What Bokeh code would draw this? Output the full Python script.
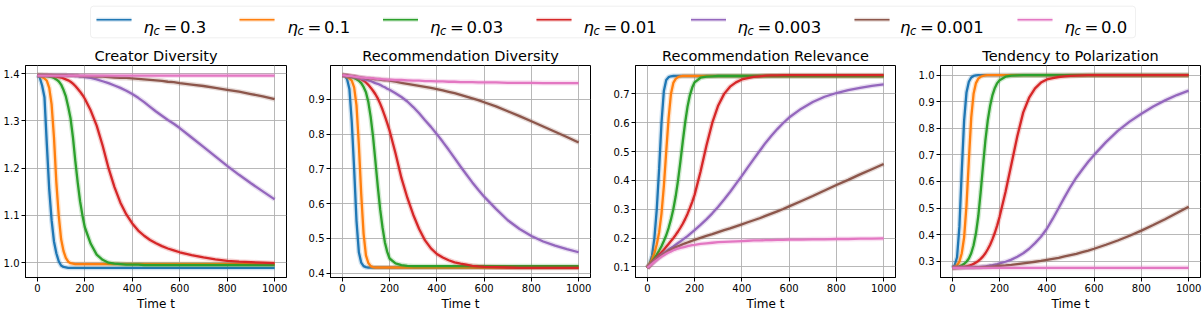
from bokeh.plotting import figure
from bokeh.models import Range1d, FixedTicker, PrintfTickFormatter, BoxAnnotation
from bokeh.layouts import row, column
from bokeh.embed import file_html
from bokeh.resources import INLINE
from bokeh.core.properties import value

# ---------------- data ----------------
T = [0, 10, 20, 30, 40, 50, 60, 70, 80, 90,
     100, 110, 120, 130, 140, 150, 160, 170, 180, 190,
     200, 225, 250, 275, 300, 325, 350, 375, 400, 425,
     450, 475, 500, 525, 550, 575, 600, 650, 700, 750,
     800, 850, 900, 950, 1000]

ETA_LABELS = ["0.3", "0.1", "0.03", "0.01", "0.003", "0.001", "0.0"]
COLORS = ["#1f77b4", "#ff7f0e", "#2ca02c", "#d62728", "#9467bd", "#8c564b", "#e377c2"]
TITLES = ["Creator Diversity", "Recommendation Diversity", "Recommendation Relevance", "Tendency to Polarization"]
X_TICKS = [0, 200, 400, 600, 800, 1000]

# Creator Diversity
cd_eta_0_3 = [1.397, 1.392, 1.375, 1.350, 1.250, 1.155, 1.090, 1.045, 1.020, 1.003,
              0.994, 0.991, 0.990, 0.989, 0.989, 0.989, 0.989, 0.989, 0.989, 0.989,
              0.989, 0.989, 0.989, 0.989, 0.989, 0.989, 0.989, 0.989, 0.989, 0.989,
              0.989, 0.989, 0.989, 0.989, 0.989, 0.989, 0.989, 0.989, 0.989, 0.989,
              0.989, 0.989, 0.989, 0.989, 0.989]
cd_eta_0_1 = [1.397, 1.396, 1.393, 1.390, 1.385, 1.370, 1.335, 1.265, 1.170, 1.100,
              1.050, 1.025, 1.010, 1.002, 0.999, 0.998, 0.997, 0.997, 0.997, 0.997,
              0.997, 0.997, 0.997, 0.997, 0.997, 0.997, 0.997, 0.997, 0.997, 0.997,
              0.997, 0.997, 0.997, 0.997, 0.997, 0.997, 0.997, 0.997, 0.997, 0.997,
              0.997, 0.997, 0.997, 0.997, 0.997]
cd_eta_0_03 = [1.397, 1.397, 1.397, 1.396, 1.395, 1.394, 1.393, 1.391, 1.388, 1.384,
               1.377, 1.366, 1.352, 1.330, 1.305, 1.265, 1.215, 1.170, 1.130, 1.100,
               1.075, 1.040, 1.017, 1.006, 1.000, 0.998, 0.997, 0.996, 0.996, 0.996,
               0.995, 0.995, 0.995, 0.995, 0.995, 0.995, 0.995, 0.995, 0.995, 0.995,
               0.995, 0.995, 0.995, 0.995, 0.995]
cd_eta_0_01 = [1.397, 1.397, 1.397, 1.397, 1.397, 1.396, 1.396, 1.395, 1.394, 1.393,
               1.392, 1.390, 1.388, 1.386, 1.383, 1.379, 1.374, 1.368, 1.362, 1.355,
               1.347, 1.322, 1.290, 1.248, 1.200, 1.160, 1.127, 1.102, 1.083, 1.068,
               1.057, 1.048, 1.041, 1.035, 1.030, 1.026, 1.022, 1.016, 1.011, 1.007,
               1.004, 1.002, 1.001, 1.000, 0.999]
cd_eta_0_003 = [1.397, 1.397, 1.397, 1.397, 1.397, 1.397, 1.397, 1.397, 1.397, 1.397,
                1.397, 1.397, 1.397, 1.396, 1.396, 1.396, 1.395, 1.395, 1.394, 1.394,
                1.393, 1.391, 1.388, 1.384, 1.380, 1.375, 1.370, 1.364, 1.357, 1.349,
                1.340, 1.330, 1.320, 1.311, 1.302, 1.294, 1.285, 1.265, 1.245, 1.225,
                1.205, 1.186, 1.168, 1.151, 1.134]
cd_eta_0_001 = [1.397, 1.397, 1.397, 1.397, 1.397, 1.397, 1.397, 1.397, 1.397, 1.397,
                1.397, 1.397, 1.397, 1.396, 1.396, 1.396, 1.396, 1.396, 1.395, 1.395,
                1.395, 1.395, 1.394, 1.394, 1.393, 1.392, 1.391, 1.391, 1.390, 1.389,
                1.388, 1.387, 1.386, 1.385, 1.383, 1.382, 1.380, 1.377, 1.374, 1.370,
                1.366, 1.362, 1.357, 1.352, 1.346]
cd_eta_0_0 = [1.396, 1.396, 1.396, 1.396, 1.396, 1.396, 1.396, 1.396, 1.396, 1.396,
              1.396, 1.396, 1.396, 1.396, 1.396, 1.396, 1.396, 1.396, 1.396, 1.396,
              1.396, 1.396, 1.396, 1.396, 1.396, 1.396, 1.396, 1.396, 1.396, 1.396,
              1.396, 1.396, 1.396, 1.396, 1.396, 1.396, 1.396, 1.396, 1.396, 1.396,
              1.396, 1.396, 1.396, 1.396, 1.396]

# Recommendation Diversity
rd_eta_0_3 = [0.970, 0.968, 0.959, 0.930, 0.835, 0.700, 0.550, 0.460, 0.430, 0.420,
              0.417, 0.416, 0.416, 0.416, 0.416, 0.416, 0.416, 0.416, 0.416, 0.416,
              0.416, 0.416, 0.416, 0.416, 0.416, 0.416, 0.416, 0.416, 0.416, 0.416,
              0.416, 0.416, 0.416, 0.416, 0.416, 0.416, 0.416, 0.416, 0.416, 0.416,
              0.416, 0.416, 0.416, 0.416, 0.416]
rd_eta_0_1 = [0.970, 0.969, 0.966, 0.961, 0.954, 0.935, 0.883, 0.769, 0.627, 0.513,
              0.451, 0.429, 0.420, 0.417, 0.416, 0.416, 0.416, 0.416, 0.416, 0.416,
              0.416, 0.416, 0.416, 0.416, 0.416, 0.416, 0.416, 0.416, 0.416, 0.416,
              0.416, 0.416, 0.416, 0.416, 0.416, 0.416, 0.416, 0.416, 0.416, 0.416,
              0.416, 0.416, 0.416, 0.416, 0.416]
rd_eta_0_03 = [0.970, 0.969, 0.968, 0.966, 0.964, 0.962, 0.958, 0.954, 0.947, 0.936,
               0.921, 0.893, 0.850, 0.793, 0.722, 0.650, 0.584, 0.532, 0.489, 0.461,
               0.442, 0.428, 0.423, 0.421, 0.420, 0.420, 0.420, 0.420, 0.420, 0.420,
               0.420, 0.420, 0.420, 0.420, 0.420, 0.420, 0.420, 0.420, 0.420, 0.420,
               0.420, 0.420, 0.420, 0.420, 0.420]
rd_eta_0_01 = [0.970, 0.970, 0.969, 0.968, 0.967, 0.966, 0.964, 0.961, 0.958, 0.954,
               0.949, 0.942, 0.934, 0.925, 0.915, 0.903, 0.888, 0.871, 0.852, 0.832,
               0.810, 0.745, 0.674, 0.617, 0.568, 0.527, 0.494, 0.471, 0.455, 0.445,
               0.437, 0.431, 0.427, 0.424, 0.421, 0.419, 0.418, 0.417, 0.416, 0.415,
               0.415, 0.415, 0.415, 0.415, 0.415]
rd_eta_0_003 = [0.970, 0.969, 0.968, 0.967, 0.966, 0.965, 0.964, 0.962, 0.960, 0.958,
                0.957, 0.955, 0.953, 0.950, 0.947, 0.945, 0.942, 0.938, 0.935, 0.931,
                0.928, 0.918, 0.907, 0.894, 0.878, 0.860, 0.840, 0.821, 0.800, 0.778,
                0.755, 0.731, 0.707, 0.684, 0.661, 0.640, 0.620, 0.585, 0.552, 0.527,
                0.507, 0.491, 0.479, 0.469, 0.460]
rd_eta_0_001 = [0.970, 0.969, 0.968, 0.967, 0.966, 0.966, 0.965, 0.964, 0.963, 0.962,
                0.961, 0.960, 0.960, 0.959, 0.958, 0.958, 0.957, 0.956, 0.955, 0.955,
                0.954, 0.951, 0.948, 0.945, 0.942, 0.939, 0.936, 0.933, 0.930, 0.926,
                0.922, 0.918, 0.913, 0.908, 0.903, 0.898, 0.892, 0.880, 0.866, 0.852,
                0.837, 0.822, 0.807, 0.792, 0.776]
rd_eta_0_0 = [0.970, 0.969, 0.968, 0.968, 0.967, 0.966, 0.965, 0.964, 0.963, 0.963,
              0.962, 0.962, 0.961, 0.961, 0.960, 0.959, 0.959, 0.958, 0.958, 0.957,
              0.957, 0.956, 0.956, 0.955, 0.954, 0.954, 0.953, 0.953, 0.952, 0.952,
              0.951, 0.951, 0.950, 0.950, 0.950, 0.949, 0.949, 0.949, 0.948, 0.948,
              0.948, 0.947, 0.947, 0.947, 0.947]

# Recommendation Relevance
rr_eta_0_3 = [0.097, 0.112, 0.140, 0.200, 0.300, 0.440, 0.600, 0.710, 0.748, 0.758,
              0.761, 0.762, 0.762, 0.762, 0.762, 0.762, 0.762, 0.762, 0.762, 0.762,
              0.762, 0.762, 0.762, 0.762, 0.762, 0.762, 0.762, 0.762, 0.762, 0.762,
              0.762, 0.762, 0.762, 0.762, 0.762, 0.762, 0.762, 0.762, 0.762, 0.762,
              0.762, 0.762, 0.762, 0.762, 0.762]
rr_eta_0_1 = [0.097, 0.110, 0.126, 0.148, 0.178, 0.220, 0.285, 0.380, 0.500, 0.615,
              0.700, 0.738, 0.752, 0.758, 0.761, 0.762, 0.762, 0.762, 0.762, 0.762,
              0.762, 0.762, 0.762, 0.762, 0.762, 0.762, 0.762, 0.762, 0.762, 0.762,
              0.762, 0.762, 0.762, 0.762, 0.762, 0.762, 0.762, 0.762, 0.762, 0.762,
              0.762, 0.762, 0.762, 0.762, 0.762]
rr_eta_0_03 = [0.097, 0.107, 0.118, 0.130, 0.143, 0.157, 0.172, 0.190, 0.210, 0.235,
               0.265, 0.300, 0.345, 0.400, 0.465, 0.535, 0.600, 0.655, 0.695, 0.722,
               0.740, 0.756, 0.760, 0.761, 0.762, 0.762, 0.762, 0.762, 0.762, 0.762,
               0.762, 0.762, 0.762, 0.762, 0.762, 0.762, 0.762, 0.762, 0.762, 0.762,
               0.762, 0.762, 0.762, 0.762, 0.762]
rr_eta_0_01 = [0.097, 0.106, 0.115, 0.124, 0.133, 0.142, 0.151, 0.160, 0.170, 0.180,
               0.190, 0.200, 0.211, 0.223, 0.236, 0.250, 0.266, 0.284, 0.304, 0.326,
               0.350, 0.430, 0.520, 0.600, 0.660, 0.700, 0.725, 0.740, 0.750, 0.755,
               0.759, 0.761, 0.763, 0.764, 0.764, 0.765, 0.765, 0.765, 0.765, 0.765,
               0.765, 0.765, 0.765, 0.765, 0.765]
rr_eta_0_003 = [0.097, 0.105, 0.113, 0.121, 0.128, 0.135, 0.142, 0.148, 0.154, 0.160,
                0.166, 0.171, 0.177, 0.183, 0.189, 0.195, 0.201, 0.207, 0.214, 0.221,
                0.228, 0.246, 0.265, 0.286, 0.309, 0.334, 0.360, 0.388, 0.416, 0.445,
                0.474, 0.502, 0.530, 0.555, 0.578, 0.599, 0.618, 0.648, 0.672, 0.690,
                0.703, 0.713, 0.721, 0.728, 0.733]
rr_eta_0_001 = [0.097, 0.105, 0.113, 0.120, 0.127, 0.134, 0.140, 0.146, 0.151, 0.156,
                0.160, 0.164, 0.168, 0.172, 0.175, 0.179, 0.182, 0.185, 0.188, 0.191,
                0.194, 0.201, 0.208, 0.214, 0.221, 0.228, 0.234, 0.241, 0.248, 0.255,
                0.262, 0.269, 0.277, 0.285, 0.293, 0.301, 0.310, 0.328, 0.346, 0.365,
                0.384, 0.402, 0.421, 0.439, 0.457]
rr_eta_0_0 = [0.097, 0.104, 0.111, 0.118, 0.124, 0.130, 0.136, 0.141, 0.146, 0.150,
              0.154, 0.158, 0.161, 0.164, 0.166, 0.168, 0.170, 0.172, 0.174, 0.176,
              0.177, 0.180, 0.182, 0.184, 0.186, 0.187, 0.188, 0.189, 0.190, 0.191,
              0.192, 0.192, 0.193, 0.193, 0.194, 0.194, 0.195, 0.195, 0.196, 0.196,
              0.197, 0.197, 0.198, 0.198, 0.199]

# Tendency to Polarization
tp_eta_0_3 = [0.275, 0.285, 0.315, 0.430, 0.640, 0.830, 0.935, 0.975, 0.991, 0.997,
              0.999, 1.000, 1.000, 1.000, 1.000, 1.000, 1.000, 1.000, 1.000, 1.000,
              1.000, 1.000, 1.000, 1.000, 1.000, 1.000, 1.000, 1.000, 1.000, 1.000,
              1.000, 1.000, 1.000, 1.000, 1.000, 1.000, 1.000, 1.000, 1.000, 1.000,
              1.000, 1.000, 1.000, 1.000, 1.000]
tp_eta_0_1 = [0.275, 0.278, 0.285, 0.298, 0.330, 0.390, 0.510, 0.680, 0.840, 0.930,
              0.970, 0.987, 0.994, 0.997, 0.999, 1.000, 1.000, 1.000, 1.000, 1.000,
              1.000, 1.000, 1.000, 1.000, 1.000, 1.000, 1.000, 1.000, 1.000, 1.000,
              1.000, 1.000, 1.000, 1.000, 1.000, 1.000, 1.000, 1.000, 1.000, 1.000,
              1.000, 1.000, 1.000, 1.000, 1.000]
tp_eta_0_03 = [0.275, 0.276, 0.278, 0.281, 0.285, 0.290, 0.298, 0.310, 0.330, 0.360,
               0.405, 0.470, 0.560, 0.660, 0.755, 0.830, 0.885, 0.925, 0.952, 0.970,
               0.981, 0.994, 0.998, 0.999, 1.000, 1.000, 1.000, 1.000, 1.000, 1.000,
               1.000, 1.000, 1.000, 1.000, 1.000, 1.000, 1.000, 1.000, 1.000, 1.000,
               1.000, 1.000, 1.000, 1.000, 1.000]
tp_eta_0_01 = [0.275, 0.275, 0.276, 0.277, 0.278, 0.279, 0.281, 0.283, 0.286, 0.290,
               0.295, 0.301, 0.309, 0.318, 0.330, 0.345, 0.362, 0.383, 0.407, 0.435,
               0.467, 0.560, 0.665, 0.770, 0.860, 0.915, 0.950, 0.972, 0.984, 0.989,
               0.993, 0.995, 0.997, 0.998, 0.999, 1.000, 1.000, 1.000, 1.000, 1.000,
               1.000, 1.000, 1.000, 1.000, 1.000]
tp_eta_0_003 = [0.275, 0.275, 0.275, 0.275, 0.276, 0.276, 0.276, 0.277, 0.277, 0.277,
                0.278, 0.278, 0.279, 0.280, 0.281, 0.282, 0.284, 0.285, 0.287, 0.289,
                0.292, 0.298, 0.306, 0.317, 0.330, 0.347, 0.368, 0.392, 0.422, 0.460,
                0.500, 0.541, 0.580, 0.615, 0.645, 0.674, 0.700, 0.748, 0.790, 0.825,
                0.855, 0.882, 0.905, 0.925, 0.942]
tp_eta_0_001 = [0.275, 0.275, 0.275, 0.275, 0.275, 0.276, 0.276, 0.276, 0.276, 0.276,
                0.277, 0.277, 0.277, 0.278, 0.278, 0.279, 0.279, 0.280, 0.281, 0.282,
                0.283, 0.284, 0.286, 0.289, 0.292, 0.295, 0.298, 0.301, 0.305, 0.309,
                0.313, 0.318, 0.323, 0.328, 0.334, 0.340, 0.347, 0.362, 0.378, 0.396,
                0.415, 0.436, 0.458, 0.481, 0.505]
tp_eta_0_0 = [0.275, 0.275, 0.275, 0.275, 0.275, 0.275, 0.275, 0.275, 0.275, 0.275,
              0.275, 0.275, 0.275, 0.275, 0.275, 0.275, 0.275, 0.275, 0.275, 0.275,
              0.275, 0.275, 0.275, 0.275, 0.275, 0.275, 0.275, 0.275, 0.275, 0.275,
              0.275, 0.275, 0.275, 0.275, 0.275, 0.275, 0.275, 0.275, 0.275, 0.275,
              0.275, 0.275, 0.275, 0.275, 0.275]

CD = [cd_eta_0_3, cd_eta_0_1, cd_eta_0_03, cd_eta_0_01, cd_eta_0_003, cd_eta_0_001, cd_eta_0_0]
RD = [rd_eta_0_3, rd_eta_0_1, rd_eta_0_03, rd_eta_0_01, rd_eta_0_003, rd_eta_0_001, rd_eta_0_0]
RR = [rr_eta_0_3, rr_eta_0_1, rr_eta_0_03, rr_eta_0_01, rr_eta_0_003, rr_eta_0_001, rr_eta_0_0]
TP = [tp_eta_0_3, tp_eta_0_1, tp_eta_0_03, tp_eta_0_01, tp_eta_0_003, tp_eta_0_001, tp_eta_0_0]

CD_TICKS = [1.0, 1.1, 1.2, 1.3, 1.4]
RD_TICKS = [0.4, 0.5, 0.6, 0.7, 0.8, 0.9]
RR_TICKS = [0.1, 0.2, 0.3, 0.4, 0.5, 0.6, 0.7]
TP_TICKS = [0.3, 0.4, 0.5, 0.6, 0.7, 0.8, 0.9, 1.0]

for grp in (CD, RD, RR, TP):
    for s in grp:
        if len(s) != len(T):
            raise ValueError("length mismatch %d" % len(s))

FONT = "DejaVu Sans"


def y_limits(group):
    lo = min(min(s) for s in group)
    hi = max(max(s) for s in group)
    pad = (hi - lo) * 0.05
    return lo - pad, hi + pad


def panel(title, group, yticks, width, left, right):
    y0, y1 = y_limits(group)
    p = figure(width=width, height=271, x_range=Range1d(-50, 1050), y_range=Range1d(y0, y1),
               output_backend="svg", toolbar_location=None,
               min_border_left=left, min_border_right=right,
               min_border_top=23, min_border_bottom=33)
    p.background_fill_color = "white"
    p.border_fill_color = "white"
    p.outline_line_color = "black"
    p.outline_line_width = 1
    p.outline_line_alpha = 1

    p.title.text = title
    p.title.align = "center"
    p.title.text_font = FONT
    p.title.text_font_size = "14.5px"
    p.title.text_font_style = "normal"
    p.title.text_color = "black"
    p.title.standoff = 3

    p.xaxis.ticker = FixedTicker(ticks=X_TICKS)
    p.xaxis.formatter = PrintfTickFormatter(format="%d")
    p.yaxis.ticker = FixedTicker(ticks=yticks)
    p.yaxis.formatter = PrintfTickFormatter(format="%.1f")
    p.xaxis.axis_label = "Time t"
    p.xaxis.axis_label_text_font = FONT
    p.xaxis.axis_label_text_font_size = "12px"
    p.xaxis.axis_label_text_font_style = "normal"
    p.xaxis.axis_label_text_color = "black"
    p.xaxis.axis_label_standoff = 2
    for ax in (p.xaxis, p.yaxis):
        ax.major_label_text_font = FONT
        ax.major_label_text_font_size = "10px"
        ax.major_label_text_color = "black"
        ax.major_label_standoff = 2
        ax.major_tick_out = 4
        ax.major_tick_in = 0
        ax.minor_tick_out = 0
        ax.minor_tick_in = 0
        ax.axis_line_color = "black"
        ax.major_tick_line_color = "black"
    for g in (p.xgrid, p.ygrid):
        g.grid_line_color = "#b0b0b0"
        g.grid_line_width = 1
        g.grid_line_alpha = 0.9

    for vals, c in zip(group, COLORS):
        p.line(T, vals, line_color=c, line_width=5, line_alpha=0.22)
        p.line(T, vals, line_color=c, line_width=2.3)
    return p


p1 = panel(TITLES[0], CD, CD_TICKS, 300, 25, 14)
p2 = panel(TITLES[1], RD, RD_TICKS, 305, 30, 15)
p3 = panel(TITLES[2], RR, RR_TICKS, 305, 30, 15)
p4 = panel(TITLES[3], TP, TP_TICKS, 294, 30, 4)

# ---------------- legend strip ----------------
leg = figure(width=1204, height=42, x_range=Range1d(0, 1204), y_range=Range1d(0, 42),
             output_backend="svg", toolbar_location=None, min_border=0,
             x_axis_location=None, y_axis_location=None)
leg.grid.visible = False
leg.outline_line_color = None
leg.background_fill_color = "white"
leg.border_fill_color = "white"
leg.add_layout(BoxAnnotation(left=90, right=1135, bottom=4.7, top=36.3, fill_color="white", fill_alpha=1,
                             line_color="#cccccc", line_width=1, border_radius=3, level="underlay"))

line_x0 = [96, 239, 382.5, 536, 690.5, 854, 1017]
text_x = [143, 287, 429.5, 583, 737, 899.5, 1064]
line_x1 = [x + 35 for x in line_x0]
ly = [22.7] * 7
leg.segment(x0=line_x0, y0=ly, x1=line_x1, y1=ly, line_color=COLORS, line_width=4, line_alpha=0.22)
leg.segment(x0=line_x0, y0=ly, x1=line_x1, y1=ly, line_color=COLORS, line_width=1.6)
leg.text(x=text_x, y=[15.3] * 7, text=["η"] * 7, text_font=value(FONT), text_font_size="16.5px",
         text_font_style="italic", text_baseline="alphabetic", text_align="left", text_color="black")
leg.text(x=[x + 10 for x in text_x], y=[12] * 7, text=["c"] * 7, text_font=value(FONT),
         text_font_size="11.5px", text_font_style="italic", text_baseline="alphabetic",
         text_align="left", text_color="black")
leg.text(x=[x + 20 for x in text_x], y=[15.3] * 7, text=["="] * 7, text_font=value(FONT),
         text_font_size="16.5px", text_baseline="alphabetic", text_align="left", text_color="black")
leg.text(x=[x + 36.5 for x in text_x], y=[15.3] * 7, text=ETA_LABELS, text_font=value(FONT),
         text_font_size="16.5px", text_baseline="alphabetic", text_align="left", text_color="black")

layout = column(leg, row(p1, p2, p3, p4))
open("out.html", "w").write(file_html(layout, INLINE))
